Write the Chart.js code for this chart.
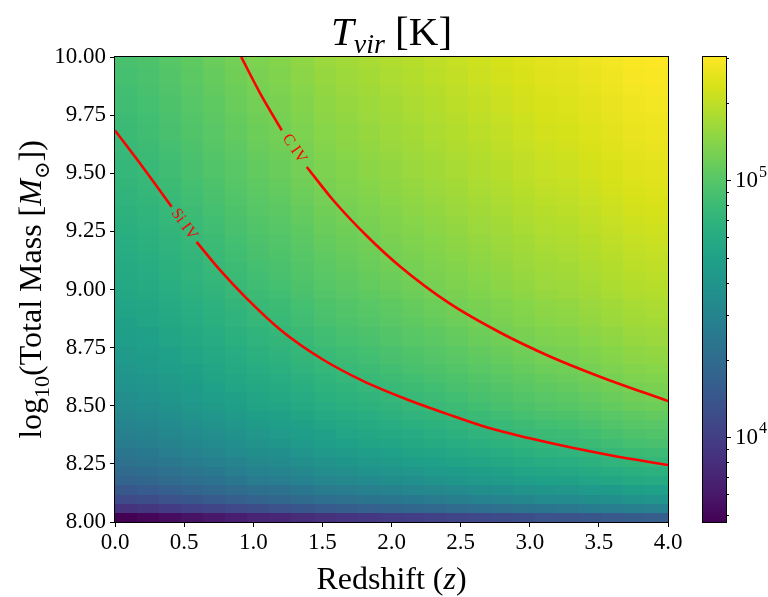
<!DOCTYPE html>
<html>
<head>
<meta charset="utf-8">
<script src="https://cdn.jsdelivr.net/npm/chart.js@4.4.0/dist/chart.umd.min.js"></script>
<style>
  html, body { margin: 0; padding: 0; background: #fff; }
  #wrap { position: relative; width: 768px; height: 597px; }
  #main { position: absolute; left: 0; top: 0; }
  #cbar { position: absolute; left: 690px; top: 0; }
</style>
</head>
<body>
<div id="wrap">
  <canvas id="main" width="690" height="597"></canvas>
  <canvas id="cbar" width="78" height="597"></canvas>
</div>
<script>
// ---- data ----
// redshift bin edges (x) and log10 mass bin edges (y)
const zEdges = [0.00, 0.16, 0.32, 0.48, 0.64, 0.80, 0.96, 1.12, 1.28, 1.44, 1.60, 1.76, 1.92, 2.08, 2.24, 2.40, 2.56, 2.72, 2.88, 3.04, 3.20, 3.36, 3.52, 3.68, 3.84, 4.00];
const massEdges = [8.00, 8.04, 8.08, 8.12, 8.16, 8.20, 8.24, 8.28, 8.32, 8.36, 8.40, 8.44, 8.48, 8.52, 8.56, 8.60, 8.64, 8.68, 8.72, 8.76, 8.80, 8.84, 8.88, 8.92, 8.96, 9.00,
                   9.04, 9.08, 9.12, 9.16, 9.20, 9.24, 9.28, 9.32, 9.36, 9.40, 9.44, 9.48, 9.52, 9.56, 9.60, 9.64, 9.68, 9.72, 9.76, 9.80, 9.84, 9.88, 9.92, 9.96, 10.00];

// log10(T_vir / K) per cell, bottom row first
const logTemp = [
  [3.67, 3.69, 3.72, 3.75, 3.78, 3.81, 3.84, 3.86, 3.89, 3.92, 3.94, 3.96, 3.98, 4.00, 4.02, 4.04, 4.06, 4.08, 4.10, 4.12, 4.13, 4.15, 4.17, 4.19, 4.20],
  [3.93, 3.95, 3.98, 4.01, 4.04, 4.07, 4.10, 4.12, 4.15, 4.18, 4.20, 4.22, 4.24, 4.26, 4.28, 4.30, 4.32, 4.34, 4.36, 4.38, 4.39, 4.41, 4.43, 4.45, 4.46],
  [4.07, 4.09, 4.12, 4.15, 4.18, 4.21, 4.24, 4.26, 4.29, 4.32, 4.34, 4.36, 4.38, 4.40, 4.42, 4.44, 4.46, 4.48, 4.50, 4.52, 4.53, 4.55, 4.57, 4.59, 4.60],
  [4.16, 4.18, 4.21, 4.24, 4.27, 4.30, 4.33, 4.35, 4.38, 4.41, 4.43, 4.45, 4.47, 4.49, 4.51, 4.53, 4.55, 4.57, 4.59, 4.61, 4.62, 4.64, 4.66, 4.68, 4.69],
  [4.24, 4.26, 4.29, 4.32, 4.35, 4.38, 4.41, 4.43, 4.46, 4.49, 4.51, 4.53, 4.55, 4.57, 4.59, 4.61, 4.63, 4.65, 4.67, 4.69, 4.70, 4.72, 4.74, 4.76, 4.77],
  [4.29, 4.31, 4.34, 4.37, 4.40, 4.43, 4.46, 4.48, 4.51, 4.54, 4.56, 4.58, 4.60, 4.62, 4.64, 4.66, 4.68, 4.70, 4.72, 4.74, 4.75, 4.77, 4.79, 4.81, 4.82],
  [4.34, 4.36, 4.39, 4.42, 4.45, 4.48, 4.51, 4.53, 4.56, 4.59, 4.61, 4.63, 4.65, 4.67, 4.69, 4.71, 4.73, 4.75, 4.77, 4.79, 4.80, 4.82, 4.84, 4.86, 4.87],
  [4.38, 4.40, 4.43, 4.46, 4.49, 4.52, 4.55, 4.57, 4.60, 4.63, 4.65, 4.67, 4.69, 4.71, 4.73, 4.75, 4.77, 4.79, 4.81, 4.83, 4.84, 4.86, 4.88, 4.90, 4.91],
  [4.42, 4.44, 4.47, 4.50, 4.53, 4.56, 4.59, 4.61, 4.64, 4.67, 4.69, 4.71, 4.73, 4.75, 4.77, 4.79, 4.81, 4.83, 4.85, 4.87, 4.88, 4.90, 4.92, 4.94, 4.95],
  [4.45, 4.47, 4.50, 4.53, 4.56, 4.59, 4.62, 4.64, 4.67, 4.70, 4.72, 4.74, 4.76, 4.78, 4.80, 4.82, 4.84, 4.86, 4.88, 4.90, 4.91, 4.93, 4.95, 4.97, 4.98],
  [4.48, 4.50, 4.53, 4.56, 4.59, 4.62, 4.65, 4.67, 4.70, 4.73, 4.75, 4.77, 4.79, 4.81, 4.83, 4.85, 4.87, 4.89, 4.91, 4.93, 4.94, 4.96, 4.98, 5.00, 5.01],
  [4.51, 4.53, 4.56, 4.59, 4.62, 4.65, 4.68, 4.70, 4.73, 4.76, 4.78, 4.80, 4.82, 4.84, 4.86, 4.88, 4.90, 4.92, 4.94, 4.96, 4.97, 4.99, 5.01, 5.03, 5.04],
  [4.54, 4.56, 4.59, 4.62, 4.65, 4.68, 4.71, 4.73, 4.76, 4.79, 4.81, 4.83, 4.85, 4.87, 4.89, 4.91, 4.93, 4.95, 4.97, 4.99, 5.00, 5.02, 5.04, 5.06, 5.07],
  [4.56, 4.58, 4.61, 4.64, 4.67, 4.70, 4.73, 4.75, 4.78, 4.81, 4.83, 4.85, 4.87, 4.89, 4.91, 4.93, 4.95, 4.97, 4.99, 5.01, 5.02, 5.04, 5.06, 5.08, 5.09],
  [4.58, 4.60, 4.63, 4.66, 4.69, 4.72, 4.75, 4.77, 4.80, 4.83, 4.85, 4.87, 4.89, 4.91, 4.93, 4.95, 4.97, 4.99, 5.01, 5.03, 5.04, 5.06, 5.08, 5.10, 5.11],
  [4.60, 4.62, 4.65, 4.68, 4.71, 4.74, 4.77, 4.79, 4.82, 4.85, 4.87, 4.89, 4.91, 4.93, 4.95, 4.97, 4.99, 5.01, 5.03, 5.05, 5.06, 5.08, 5.10, 5.12, 5.13],
  [4.62, 4.64, 4.67, 4.70, 4.73, 4.76, 4.79, 4.81, 4.84, 4.87, 4.89, 4.91, 4.93, 4.95, 4.97, 4.99, 5.01, 5.03, 5.05, 5.07, 5.08, 5.10, 5.12, 5.14, 5.15],
  [4.64, 4.66, 4.69, 4.72, 4.75, 4.78, 4.81, 4.83, 4.86, 4.89, 4.91, 4.93, 4.95, 4.97, 4.99, 5.01, 5.03, 5.05, 5.07, 5.09, 5.10, 5.12, 5.14, 5.16, 5.17],
  [4.65, 4.67, 4.70, 4.73, 4.76, 4.79, 4.82, 4.84, 4.87, 4.90, 4.92, 4.94, 4.96, 4.98, 5.00, 5.02, 5.04, 5.06, 5.08, 5.10, 5.11, 5.13, 5.15, 5.17, 5.18],
  [4.67, 4.69, 4.72, 4.75, 4.78, 4.81, 4.84, 4.86, 4.89, 4.92, 4.94, 4.96, 4.98, 5.00, 5.02, 5.04, 5.06, 5.08, 5.10, 5.12, 5.13, 5.15, 5.17, 5.19, 5.20],
  [4.68, 4.70, 4.73, 4.76, 4.79, 4.82, 4.85, 4.87, 4.90, 4.93, 4.95, 4.97, 4.99, 5.01, 5.03, 5.05, 5.07, 5.09, 5.11, 5.13, 5.14, 5.16, 5.18, 5.20, 5.21],
  [4.70, 4.72, 4.75, 4.78, 4.81, 4.84, 4.87, 4.89, 4.92, 4.95, 4.97, 4.99, 5.01, 5.03, 5.05, 5.07, 5.09, 5.11, 5.13, 5.15, 5.16, 5.18, 5.20, 5.22, 5.23],
  [4.71, 4.73, 4.76, 4.79, 4.82, 4.85, 4.88, 4.90, 4.93, 4.96, 4.98, 5.00, 5.02, 5.04, 5.06, 5.08, 5.10, 5.12, 5.14, 5.16, 5.17, 5.19, 5.21, 5.23, 5.24],
  [4.72, 4.74, 4.77, 4.80, 4.83, 4.86, 4.89, 4.91, 4.94, 4.97, 4.99, 5.01, 5.03, 5.05, 5.07, 5.09, 5.11, 5.13, 5.15, 5.17, 5.18, 5.20, 5.22, 5.24, 5.25],
  [4.74, 4.76, 4.79, 4.82, 4.85, 4.88, 4.91, 4.93, 4.96, 4.99, 5.01, 5.03, 5.05, 5.07, 5.09, 5.11, 5.13, 5.15, 5.17, 5.19, 5.20, 5.22, 5.24, 5.26, 5.27],
  [4.75, 4.77, 4.80, 4.83, 4.86, 4.89, 4.92, 4.94, 4.97, 5.00, 5.02, 5.04, 5.06, 5.08, 5.10, 5.12, 5.14, 5.16, 5.18, 5.20, 5.21, 5.23, 5.25, 5.27, 5.28],
  [4.76, 4.78, 4.81, 4.84, 4.87, 4.90, 4.93, 4.95, 4.98, 5.01, 5.03, 5.05, 5.07, 5.09, 5.11, 5.13, 5.15, 5.17, 5.19, 5.21, 5.22, 5.24, 5.26, 5.28, 5.29],
  [4.77, 4.79, 4.82, 4.85, 4.88, 4.91, 4.94, 4.96, 4.99, 5.02, 5.04, 5.06, 5.08, 5.10, 5.12, 5.14, 5.16, 5.18, 5.20, 5.22, 5.23, 5.25, 5.27, 5.29, 5.30],
  [4.78, 4.80, 4.83, 4.86, 4.89, 4.92, 4.95, 4.97, 5.00, 5.03, 5.05, 5.07, 5.09, 5.11, 5.13, 5.15, 5.17, 5.19, 5.21, 5.23, 5.24, 5.26, 5.28, 5.30, 5.31],
  [4.79, 4.81, 4.84, 4.87, 4.90, 4.93, 4.96, 4.98, 5.01, 5.04, 5.06, 5.08, 5.10, 5.12, 5.14, 5.16, 5.18, 5.20, 5.22, 5.24, 5.25, 5.27, 5.29, 5.31, 5.32],
  [4.80, 4.82, 4.85, 4.88, 4.91, 4.94, 4.97, 4.99, 5.02, 5.05, 5.07, 5.09, 5.11, 5.13, 5.15, 5.17, 5.19, 5.21, 5.23, 5.25, 5.26, 5.28, 5.30, 5.32, 5.33],
  [4.81, 4.83, 4.86, 4.89, 4.92, 4.95, 4.98, 5.00, 5.03, 5.06, 5.08, 5.10, 5.12, 5.14, 5.16, 5.18, 5.20, 5.22, 5.24, 5.26, 5.27, 5.29, 5.31, 5.33, 5.34],
  [4.82, 4.84, 4.87, 4.90, 4.93, 4.96, 4.99, 5.01, 5.04, 5.07, 5.09, 5.11, 5.13, 5.15, 5.17, 5.19, 5.21, 5.23, 5.25, 5.27, 5.28, 5.30, 5.32, 5.34, 5.35],
  [4.83, 4.85, 4.88, 4.91, 4.94, 4.97, 5.00, 5.02, 5.05, 5.08, 5.10, 5.12, 5.14, 5.16, 5.18, 5.20, 5.22, 5.24, 5.26, 5.28, 5.29, 5.31, 5.33, 5.35, 5.36],
  [4.84, 4.86, 4.89, 4.92, 4.95, 4.98, 5.01, 5.03, 5.06, 5.09, 5.11, 5.13, 5.15, 5.17, 5.19, 5.21, 5.23, 5.25, 5.27, 5.29, 5.30, 5.32, 5.34, 5.36, 5.37],
  [4.85, 4.87, 4.90, 4.93, 4.96, 4.99, 5.02, 5.04, 5.07, 5.10, 5.12, 5.14, 5.16, 5.18, 5.20, 5.22, 5.24, 5.26, 5.28, 5.30, 5.31, 5.33, 5.35, 5.37, 5.38],
  [4.86, 4.88, 4.91, 4.94, 4.97, 5.00, 5.03, 5.05, 5.08, 5.11, 5.13, 5.15, 5.17, 5.19, 5.21, 5.23, 5.25, 5.27, 5.29, 5.31, 5.32, 5.34, 5.36, 5.38, 5.39],
  [4.87, 4.89, 4.92, 4.95, 4.98, 5.01, 5.04, 5.06, 5.09, 5.12, 5.14, 5.16, 5.18, 5.20, 5.22, 5.24, 5.26, 5.28, 5.30, 5.32, 5.33, 5.35, 5.37, 5.39, 5.40],
  [4.87, 4.89, 4.92, 4.95, 4.98, 5.01, 5.04, 5.06, 5.09, 5.12, 5.14, 5.16, 5.18, 5.20, 5.22, 5.24, 5.26, 5.28, 5.30, 5.32, 5.33, 5.35, 5.37, 5.39, 5.40],
  [4.88, 4.90, 4.93, 4.96, 4.99, 5.02, 5.05, 5.07, 5.10, 5.13, 5.15, 5.17, 5.19, 5.21, 5.23, 5.25, 5.27, 5.29, 5.31, 5.33, 5.34, 5.36, 5.38, 5.40, 5.41],
  [4.89, 4.91, 4.94, 4.97, 5.00, 5.03, 5.06, 5.08, 5.11, 5.14, 5.16, 5.18, 5.20, 5.22, 5.24, 5.26, 5.28, 5.30, 5.32, 5.34, 5.35, 5.37, 5.39, 5.41, 5.42],
  [4.90, 4.92, 4.95, 4.98, 5.01, 5.04, 5.07, 5.09, 5.12, 5.15, 5.17, 5.19, 5.21, 5.23, 5.25, 5.27, 5.29, 5.31, 5.33, 5.35, 5.36, 5.38, 5.40, 5.42, 5.43],
  [4.90, 4.92, 4.95, 4.98, 5.01, 5.04, 5.07, 5.09, 5.12, 5.15, 5.17, 5.19, 5.21, 5.23, 5.25, 5.27, 5.29, 5.31, 5.33, 5.35, 5.36, 5.38, 5.40, 5.42, 5.43],
  [4.91, 4.93, 4.96, 4.99, 5.02, 5.05, 5.08, 5.10, 5.13, 5.16, 5.18, 5.20, 5.22, 5.24, 5.26, 5.28, 5.30, 5.32, 5.34, 5.36, 5.37, 5.39, 5.41, 5.43, 5.44],
  [4.92, 4.94, 4.97, 5.00, 5.03, 5.06, 5.09, 5.11, 5.14, 5.17, 5.19, 5.21, 5.23, 5.25, 5.27, 5.29, 5.31, 5.33, 5.35, 5.37, 5.38, 5.40, 5.42, 5.44, 5.45],
  [4.92, 4.94, 4.97, 5.00, 5.03, 5.06, 5.09, 5.11, 5.14, 5.17, 5.19, 5.21, 5.23, 5.25, 5.27, 5.29, 5.31, 5.33, 5.35, 5.37, 5.38, 5.40, 5.42, 5.44, 5.45],
  [4.93, 4.95, 4.98, 5.01, 5.04, 5.07, 5.10, 5.12, 5.15, 5.18, 5.20, 5.22, 5.24, 5.26, 5.28, 5.30, 5.32, 5.34, 5.36, 5.38, 5.39, 5.41, 5.43, 5.45, 5.46],
  [4.94, 4.96, 4.99, 5.02, 5.05, 5.08, 5.11, 5.13, 5.16, 5.19, 5.21, 5.23, 5.25, 5.27, 5.29, 5.31, 5.33, 5.35, 5.37, 5.39, 5.40, 5.42, 5.44, 5.46, 5.47],
  [4.94, 4.96, 4.99, 5.02, 5.05, 5.08, 5.11, 5.13, 5.16, 5.19, 5.21, 5.23, 5.25, 5.27, 5.29, 5.31, 5.33, 5.35, 5.37, 5.39, 5.40, 5.42, 5.44, 5.46, 5.47],
  [4.95, 4.97, 5.00, 5.03, 5.06, 5.09, 5.12, 5.14, 5.17, 5.20, 5.22, 5.24, 5.26, 5.28, 5.30, 5.32, 5.34, 5.36, 5.38, 5.40, 5.41, 5.43, 5.45, 5.47, 5.48]
];

// contour lines (redshift, log10 mass); null marks the gap left for the label
const civZ = [0.913, 1.05, 1.206, 1.30, 1.387, 1.577, 1.82, 2.06, 2.42, 2.785, 3.146, 3.508, 4.0];
const civM = [10.0, 9.844, 9.685, null, 9.527, 9.385, 9.231, 9.10, 8.94, 8.815, 8.712, 8.625, 8.52];
const siivZ = [0.0, 0.2, 0.41, 0.50, 0.59, 0.76, 0.95, 1.2, 1.5, 1.8, 2.1, 2.4, 2.7, 3.0, 3.3, 3.6, 4.0];
const siivM = [9.684, 9.527, 9.356, null, 9.205, 9.083, 8.963, 8.825, 8.70, 8.605, 8.53, 8.465, 8.405, 8.36, 8.32, 8.285, 8.245];

// tick labels
const zTicks = [0, 0.5, 1, 1.5, 2, 2.5, 3, 3.5, 4];
const massTicks = [8, 8.25, 8.5, 8.75, 9, 9.25, 9.5, 9.75, 10];
const cbTicks = [5e3, 6e3, 7e3, 8e3, 9e3, 1e4, 2e4, 3e4, 4e4, 5e4, 6e4, 7e4, 8e4, 9e4, 1e5, 2e5, 3e5];
const cbMajor = [1e4, 1e5];

// ---- styling ----
const SERIF = '"Liberation Serif", "DejaVu Serif", serif';
const TICK_FONT = { family: SERIF, size: 23 };

const viridisStops = [
  [68, 1, 84], [72, 26, 108], [71, 45, 123], [66, 64, 134], [59, 82, 139],
  [51, 99, 141], [44, 114, 142], [38, 130, 142], [33, 145, 140], [31, 160, 136],
  [40, 174, 128], [62, 188, 116], [94, 201, 98], [132, 212, 75], [173, 220, 48],
  [216, 226, 25], [253, 231, 37]
];
function viridis(f) {
  f = Math.min(1, Math.max(0, f));
  const p = f * 16;
  const i = Math.min(15, Math.floor(p));
  const t = p - i;
  const a = viridisStops[i], b = viridisStops[i + 1];
  return 'rgb(' + [0, 1, 2].map(k => Math.round(a[k] + (b[k] - a[k]) * t)).join(',') + ')';
}

const allLog = logTemp.flat();
const tMin = Math.min(...allLog);
const tMax = Math.max(...allLog);

// draw a line of text made of runs with their own font and vertical shift
function drawRuns(ctx, runs, x, y) {
  let w = 0;
  runs.forEach(r => { ctx.font = r.font; r.w = ctx.measureText(r.t).width; w += r.w; });
  let cx = x - w / 2;
  ctx.textAlign = 'left';
  ctx.textBaseline = 'alphabetic';
  runs.forEach(r => { ctx.font = r.font; ctx.fillText(r.t, cx, y + (r.dy || 0)); cx += r.w; });
}

// heatmap cells, placed with the chart scales
const heatmapPlugin = {
  id: 'heatmap',
  beforeDatasetsDraw(chart) {
    const { ctx, chartArea: a, scales: { x, y } } = chart;
    ctx.save();
    ctx.beginPath();
    ctx.rect(a.left, a.top, a.width, a.height);
    ctx.clip();
    for (let i = 0; i < logTemp.length; i++) {
      const yTop = Math.floor(y.getPixelForValue(massEdges[i + 1]));
      const yBot = Math.ceil(y.getPixelForValue(massEdges[i]));
      for (let j = 0; j < logTemp[i].length; j++) {
        const x0 = Math.floor(x.getPixelForValue(zEdges[j]));
        const x1 = Math.ceil(x.getPixelForValue(zEdges[j + 1]));
        ctx.fillStyle = viridis((logTemp[i][j] - tMin) / (tMax - tMin));
        ctx.fillRect(x0, yTop, x1 - x0, yBot - yTop);
      }
    }
    ctx.restore();
  }
};

// inline contour labels + frame + axis titles
const decorPlugin = {
  id: 'decor',
  afterDatasetsDraw(chart) {
    const { ctx, scales: { x, y } } = chart;
    const contours = [[civZ, civM, 'C IV'], [siivZ, siivM, 'Si IV']];
    contours.forEach(([zs, ms, name]) => {
      const k = ms.indexOf(null);
      const x1 = x.getPixelForValue(zs[k - 1]), y1 = y.getPixelForValue(ms[k - 1]);
      const x2 = x.getPixelForValue(zs[k + 1]), y2 = y.getPixelForValue(ms[k + 1]);
      ctx.save();
      ctx.translate((x1 + x2) / 2, (y1 + y2) / 2);
      ctx.rotate(Math.atan2(y2 - y1, x2 - x1));
      ctx.fillStyle = '#ff0000';
      ctx.font = '16px ' + SERIF;
      ctx.textAlign = 'center';
      ctx.textBaseline = 'middle';
      ctx.fillText(name, 0, 0);
      ctx.restore();
    });
  },
  afterDraw(chart) {
    const { ctx, chartArea: a } = chart;
    ctx.save();
    ctx.strokeStyle = '#000';
    ctx.lineWidth = 1;
    ctx.strokeRect(Math.round(a.left) - 0.5, Math.round(a.top) - 0.5, Math.round(a.width) + 1, Math.round(a.height) + 1);
    ctx.fillStyle = '#000';
    const cx = (a.left + a.right) / 2;
    drawRuns(ctx, [
      { t: 'T', font: 'italic 41px ' + SERIF },
      { t: 'vir', font: 'italic 28px ' + SERIF, dy: 8 },
      { t: ' [K]', font: '41px ' + SERIF }
    ], cx, 45);
    drawRuns(ctx, [
      { t: 'Redshift (', font: '32px ' + SERIF },
      { t: 'z', font: 'italic 32px ' + SERIF },
      { t: ')', font: '32px ' + SERIF }
    ], cx, 589);
    ctx.translate(41, (a.top + a.bottom) / 2);
    ctx.rotate(-Math.PI / 2);
    drawRuns(ctx, [
      { t: 'log', font: '32px ' + SERIF },
      { t: '10', font: '22px ' + SERIF, dy: 8 },
      { t: '(Total Mass [', font: '32px ' + SERIF },
      { t: 'M', font: 'italic 32px ' + SERIF },
      { t: '\u2299', font: '21px ' + SERIF, dy: 8 },
      { t: '])', font: '32px ' + SERIF }
    ], 0, 0);
    ctx.restore();
  }
};

function contourSet(zs, ms) {
  return {
    data: zs.map((z, i) => ({ x: z, y: ms[i] })),
    showLine: true,
    spanGaps: false,
    borderColor: '#ff0000',
    borderWidth: 2.6,
    pointRadius: 0,
    cubicInterpolationMode: 'monotone'
  };
}

new Chart(document.getElementById('main'), {
  type: 'scatter',
  data: { datasets: [contourSet(civZ, civM), contourSet(siivZ, siivM)] },
  options: {
    responsive: false,
    animation: false,
    layout: { padding: { left: 0, right: 22, top: 57, bottom: 0 } },
    plugins: { legend: { display: false }, tooltip: { enabled: false }, title: { display: false } },
    scales: {
      x: {
        type: 'linear', min: 0, max: 4,
        afterBuildTicks: s => { s.ticks = zTicks.map(v => ({ value: v })); },
        afterFit: s => { s.height = 75; },
        ticks: { autoSkip: false, maxRotation: 0, padding: 2, color: '#000', font: TICK_FONT, callback: v => v.toFixed(1) },
        grid: { drawOnChartArea: false, tickLength: 5, tickColor: '#000', tickWidth: 1 },
        border: { display: false }
      },
      y: {
        type: 'linear', min: 8, max: 10,
        afterBuildTicks: s => { s.ticks = massTicks.map(v => ({ value: v })); },
        afterFit: s => { s.width = 115; },
        ticks: { autoSkip: false, padding: 4, color: '#000', font: TICK_FONT, callback: v => v.toFixed(2) },
        grid: { drawOnChartArea: false, tickLength: 5, tickColor: '#000', tickWidth: 1 },
        border: { display: false }
      }
    }
  },
  plugins: [heatmapPlugin, decorPlugin]
});

// ---- colorbar ----
const colorbarPlugin = {
  id: 'colorbar',
  beforeDatasetsDraw(chart) {
    const { ctx, chartArea: a, scales: { y } } = chart;
    ctx.save();
    for (let py = Math.floor(a.top); py < Math.ceil(a.bottom); py++) {
      const v = Math.log10(y.getValueForPixel(py + 0.5));
      ctx.fillStyle = viridis((v - tMin) / (tMax - tMin));
      ctx.fillRect(a.left, py, a.width, 1);
    }
    ctx.restore();
  },
  afterDraw(chart) {
    const { ctx, chartArea: a, scales: { y } } = chart;
    ctx.save();
    ctx.strokeStyle = '#000';
    ctx.lineWidth = 1;
    ctx.strokeRect(Math.round(a.left) - 0.5, Math.round(a.top) - 0.5, Math.round(a.width) + 1, Math.round(a.height) + 1);
    const right = Math.round(a.right);
    cbTicks.filter(v => v >= y.min && v <= y.max).forEach(v => {
      const py = Math.round(y.getPixelForValue(v)) + 0.5;
      const len = cbMajor.includes(v) ? 5 : 3;
      ctx.beginPath();
      ctx.moveTo(right, py);
      ctx.lineTo(right + len, py);
      ctx.stroke();
    });
    ctx.fillStyle = '#000';
    ctx.textAlign = 'left';
    ctx.textBaseline = 'middle';
    cbMajor.forEach(v => {
      const py = y.getPixelForValue(v);
      ctx.font = '23px ' + SERIF;
      ctx.fillText('10', right + 9, py + 1);
      const w = ctx.measureText('10').width;
      ctx.font = '16px ' + SERIF;
      ctx.fillText(String(Math.round(Math.log10(v))), right + 9 + w + 1, py - 8);
    });
    ctx.restore();
  }
};

new Chart(document.getElementById('cbar'), {
  type: 'scatter',
  data: { datasets: [] },
  options: {
    responsive: false,
    animation: false,
    layout: { padding: { left: 13, right: 0, top: 57, bottom: 75 } },
    plugins: { legend: { display: false }, tooltip: { enabled: false } },
    scales: {
      x: { display: false },
      y: {
        type: 'logarithmic', position: 'right',
        min: Math.pow(10, tMin), max: Math.pow(10, tMax),
        afterFit: s => { s.width = 42; },
        ticks: { autoSkip: false, callback: () => '' },
        grid: { display: false },
        border: { display: false }
      }
    }
  },
  plugins: [colorbarPlugin]
});
</script>
</body>
</html>
